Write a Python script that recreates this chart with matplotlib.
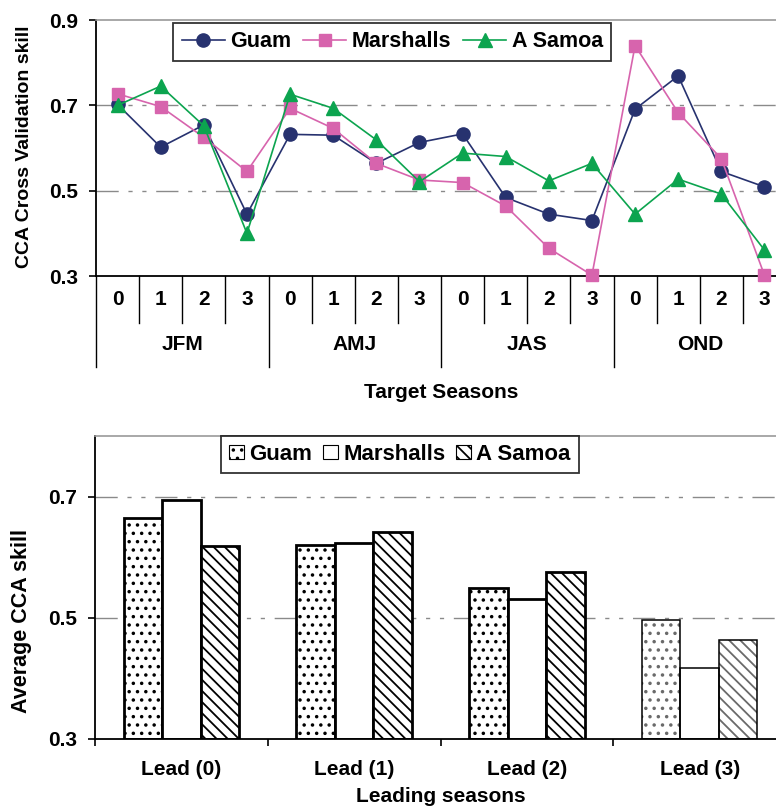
import matplotlib

matplotlib.use("Agg")
import matplotlib.pyplot as plt
import matplotlib.transforms as mtransforms
from matplotlib.patches import Patch

# ---- data ----
SEASONS = ["JFM", "AMJ", "JAS", "OND"]
LEADS = ["0", "1", "2", "3"]
guam = [0.702, 0.602, 0.654, 0.445, 0.632, 0.630, 0.564, 0.613,
        0.633, 0.484, 0.445, 0.430, 0.691, 0.769, 0.545, 0.509]
marshalls = [0.727, 0.697, 0.625, 0.545, 0.693, 0.646, 0.564, 0.525,
             0.519, 0.464, 0.365, 0.302, 0.840, 0.683, 0.575, 0.302]
samoa = [0.700, 0.745, 0.652, 0.400, 0.726, 0.693, 0.619, 0.521,
         0.588, 0.580, 0.523, 0.564, 0.445, 0.527, 0.492, 0.361]

LEAD_LABELS = ["Lead (0)", "Lead (1)", "Lead (2)", "Lead (3)"]
avg_guam = [0.664, 0.620, 0.550, 0.496]
avg_marshalls = [0.695, 0.623, 0.531, 0.417]
avg_samoa = [0.619, 0.642, 0.575, 0.463]

NAVY = "#27326F"
PINK = "#D764AD"
GREEN = "#0CA44F"
GRID = "#8A8A8A"
GRID_LS = (0, (16, 7, 3, 7, 3, 7))
FS = 15

plt.rcParams["font.family"] = ["Liberation Sans", "DejaVu Sans"]
plt.rcParams["font.weight"] = "bold"
plt.rcParams["axes.labelweight"] = "bold"
plt.rcParams["hatch.linewidth"] = 1.3

W, H = 776, 810
fig = plt.figure(figsize=(W / 100, H / 100), dpi=100, facecolor="white")


def style_axes(ax):
    ax.spines["right"].set_visible(False)
    ax.spines["top"].set_color("#9A9A9A")
    ax.spines["top"].set_linewidth(1.2)
    for s in ("left", "bottom"):
        ax.spines[s].set_linewidth(1.3)
        ax.spines[s].set_color("black")
    ax.tick_params(axis="y", direction="out", length=5, width=1.2,
                   labelsize=FS, pad=8)
    for y in (0.5, 0.7):
        ax.axhline(y, color=GRID, lw=1.0, ls=GRID_LS, zorder=0)


# ---------------- top: CCA cross validation skill ----------------
ax1 = fig.add_axes([96 / W, 534 / H, 690 / W, 256 / H])
n = len(SEASONS) * len(LEADS)
x = list(range(n))
ax1.plot(x, guam, "-o", color=NAVY, lw=1.2, ms=9.5, label="Guam",
         clip_on=False, zorder=3)
ax1.plot(x, marshalls, "-s", color=PINK, lw=1.2, ms=8.5, label="Marshalls",
         clip_on=False, zorder=3)
ax1.plot(x, samoa, "-^", color=GREEN, lw=1.2, ms=10, label="A Samoa",
         clip_on=False, zorder=3)
ax1.set_xlim(-0.5, n - 0.5)
ax1.set_ylim(0.3, 0.9)
ax1.set_yticks([0.3, 0.5, 0.7, 0.9])
ax1.set_yticklabels(["0.3", "0.5", "0.7", "0.9"])
ax1.set_xticks([])
style_axes(ax1)
ax1.set_ylabel("CCA Cross Validation skill", fontsize=14)
ax1.yaxis.set_label_coords(-0.091, 0.506)

# category table under the axis
tr = mtransforms.blended_transform_factory(ax1.transData, ax1.transAxes)
row1, row2 = -0.182, -0.354
for k in range(n + 1):
    bottom = row2 if k % len(LEADS) == 0 else row1
    ax1.plot([k - 0.5, k - 0.5], [0, bottom], color="black", lw=1.0,
             transform=tr, clip_on=False)
for i, season in enumerate(SEASONS):
    for j, lead in enumerate(LEADS):
        ax1.text(i * len(LEADS) + j, row1 / 2, lead, transform=tr,
                 ha="center", va="center", fontsize=FS)
    ax1.text(i * len(LEADS) + 1.5, (row1 + row2) / 2, season, transform=tr,
             ha="center", va="center", fontsize=FS)
ax1.text(0.5, -0.455, "Target Seasons", transform=ax1.transAxes,
         ha="center", va="center", fontsize=FS)

leg1 = ax1.legend(loc="upper left", bbox_to_anchor=(0.112, 0.99), ncol=3,
                  frameon=True, fancybox=False, fontsize=15.5, numpoints=1,
                  handlelength=2.0, handletextpad=0.25, columnspacing=0.55,
                  borderaxespad=0, borderpad=0.4)
leg1.get_frame().set_edgecolor("black")
leg1.get_frame().set_linewidth(1.3)

# ---------------- bottom: average CCA skill ----------------
ax2 = fig.add_axes([95 / W, 71 / H, 691 / W, 303 / H])
bw = 0.223
series = [(avg_guam, "..", "Guam"), (avg_marshalls, "", "Marshalls"),
          (avg_samoa, "\\" * 3, "A Samoa")]
for s, (vals, hatch, name) in enumerate(series):
    for i, v in enumerate(vals):
        xpos = i + (s - 1) * bw
        if i == len(vals) - 1:
            # last group is drawn lighter: grey hatch, thin outline
            ax2.bar(xpos, v - 0.3, bottom=0.3, width=bw, facecolor="white",
                    edgecolor="#6A6A6A", hatch=hatch, linewidth=0, zorder=2)
            ax2.bar(xpos, v - 0.3, bottom=0.3, width=bw, facecolor="none",
                    edgecolor="black", linewidth=1.1, zorder=3)
        else:
            ax2.bar(xpos, v - 0.3, bottom=0.3, width=bw, facecolor="white",
                    edgecolor="black", hatch=hatch, linewidth=2.0, zorder=2)
ax2.set_xlim(-0.5, len(LEAD_LABELS) - 0.5)
ax2.set_ylim(0.3, 0.8)
ax2.set_yticks([0.3, 0.5, 0.7])
ax2.set_yticklabels(["0.3", "0.5", "0.7"])
ax2.set_xticks([i - 0.5 for i in range(len(LEAD_LABELS))])
ax2.set_xticklabels([])
ax2.set_xticks(range(len(LEAD_LABELS)), minor=True)
ax2.set_xticklabels(LEAD_LABELS, minor=True, fontsize=FS)
ax2.tick_params(axis="x", which="major", direction="out", length=5,
                width=1.2)
ax2.tick_params(axis="x", which="minor", length=0, pad=15)
style_axes(ax2)
ax2.set_ylabel("Average CCA skill", fontsize=15.5)
ax2.yaxis.set_label_coords(-0.091, 0.39)
ax2.set_xlabel("Leading seasons", fontsize=FS)
ax2.xaxis.set_label_coords(0.5, -0.16)

handles = [Patch(facecolor="white", edgecolor="black", hatch=h, lw=0.8)
           for _, h, _ in series]
leg2 = ax2.legend(handles, [nm for _, _, nm in series], loc="upper left",
                  bbox_to_anchor=(0.183, 1.0), ncol=3, frameon=True,
                  fancybox=False, fontsize=16, handlelength=0.65,
                  handleheight=0.65, handletextpad=0.25, columnspacing=0.5,
                  borderaxespad=0, borderpad=0.35)
leg2.get_frame().set_edgecolor("black")
leg2.get_frame().set_linewidth(1.3)

fig.savefig("out.png", dpi=100)
